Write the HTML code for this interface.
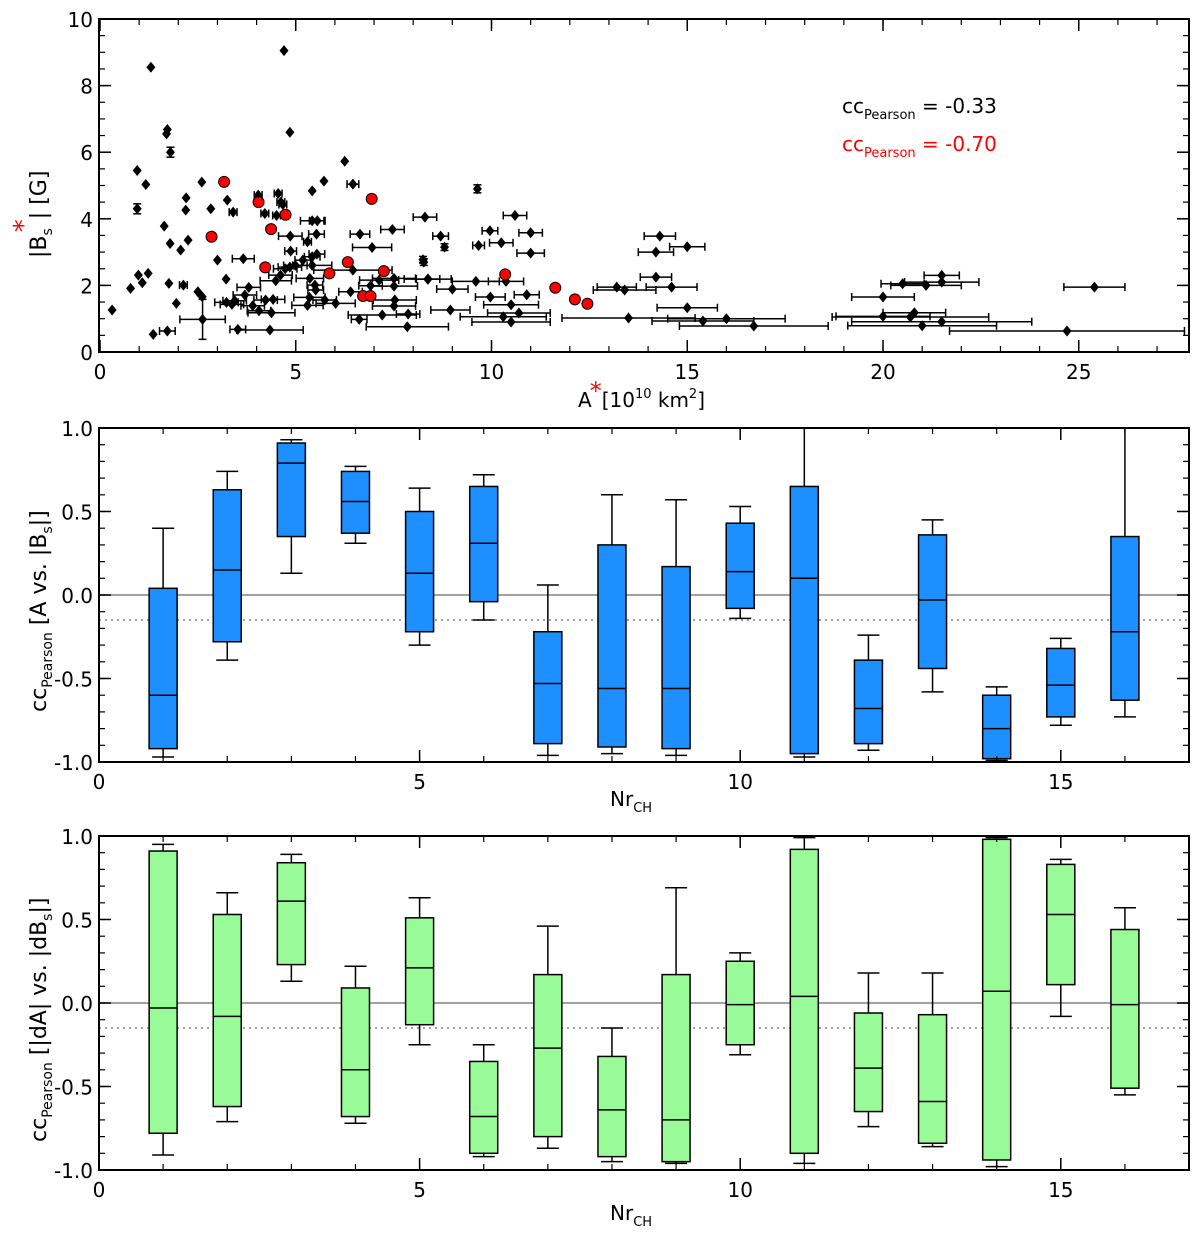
<!DOCTYPE html>
<html><head><meta charset="utf-8"><style>
body{margin:0;background:#fff}
svg text{font-family:"DejaVu Sans","Liberation Sans",sans-serif;fill:#000}
</style></head><body>
<svg id="chart" width="1200" height="1232" viewBox="0 0 1200 1232" xmlns="http://www.w3.org/2000/svg"></svg>
<script>
// ---- Panel 1 scatter data: [A, |Bs|, xerr, yerr]
const scatterBlack = [
[1.3,8.55,0,0],[4.7,9.05,0,0],[4.85,6.6,0,0],[1.7,6.55,0,0],[1.72,6.68,0,0],[1.8,6.0,0,0.15],
[0.95,5.45,0,0],[1.17,5.03,0,0],[0.95,4.3,0,0.15],[2.2,4.63,0,0],[2.19,4.26,0,0],[2.6,5.1,0,0],
[3.25,4.56,0,0],[3.4,4.2,0.1,0],[2.83,4.3,0,0],[4.04,4.71,0.1,0],[4.55,4.76,0.1,0],[4.62,4.5,0.1,0],
[4.67,4.43,0.1,0],[4.21,4.16,0.1,0],[4.51,4.1,0.1,0],[5.42,4.84,0,0],[5.72,5.13,0,0],[6.25,5.73,0,0],
[6.46,5.04,0.15,0],[9.64,4.9,0,0.12],[10.6,4.1,0.3,0],[8.3,4.05,0.3,0],[8.7,3.48,0.2,0],[8.8,3.15,0,0.1],
[9.96,3.64,0.2,0],[11.0,3.58,0.3,0],[9.67,3.2,0.15,0],[10.25,3.28,0.3,0],[11.0,2.97,0.35,0],[8.25,2.77,0,0.1],
[8.37,2.19,0.6,0],[9.6,2.12,0.6,0],[10.37,2.12,0.45,0],[9.0,1.89,0.4,0],[9.97,1.65,0.38,0],[10.9,1.72,0.32,0],
[10.5,1.42,0.7,0],[8.95,1.26,0.5,0],[10.3,1.06,1.1,0],[10.7,1.17,0.8,0],[10.5,0.9,1.0,0],
[1.64,3.78,0,0],[1.79,3.26,0,0],[2.06,3.06,0,0],[2.25,3.36,0,0],[3.0,2.76,0,0],[3.66,2.8,0.28,0],
[4.86,3.48,0.3,0],[4.87,3.03,0.15,0],[5.3,3.31,0.1,0],[5.53,3.54,0.2,0],[5.42,3.94,0.3,0],[5.55,3.94,0.2,0],
[6.64,3.54,0.25,0],[6.95,3.14,0.5,0],[7.47,3.68,0.3,0],[8.27,2.7,0,0.1],
[0.98,2.31,0,0],[1.23,2.36,0,0],[1.08,2.08,0,0],[0.78,1.91,0,0],[0.31,1.26,0,0],[1.76,2.06,0,0],
[2.13,2.01,0.1,0],[1.95,1.46,0,0],[2.5,1.81,0,0],[2.61,1.66,0,0],[2.62,0.98,0.58,0.6],[1.36,0.53,0,0],
[1.72,0.63,0.2,0],[3.22,2.19,0,0],[3.23,1.49,0.3,0],[3.37,1.43,0.3,0],[3.44,1.54,0.3,0],[3.7,1.71,0.3,0],
[3.8,1.94,0.3,0],[3.9,1.39,0.3,0],[3.52,0.68,0.2,0],[4.34,0.66,0.85,0],[4.06,1.24,0.3,0],[4.38,1.18,0.6,0],
[4.23,1.56,0.3,0],[4.42,1.58,0.3,0],[4.61,2.31,0.3,0],[4.73,2.5,0.3,0],[4.85,2.55,0.3,0],[4.99,2.6,0.3,0],
[4.49,2.14,0.4,0],[5.18,2.76,0.2,0],[5.42,2.86,0.2,0],[5.54,2.94,0.2,0],[5.42,2.6,0.5,0],[5.36,2.21,0.35,0],
[5.49,2.01,0.2,0],[5.51,1.86,0.2,0],[5.35,1.64,0.4,0],[5.74,1.56,0.3,0],[6.02,1.46,0.5,0],[5.3,1.4,0.4,0],
[6.46,2.46,1.0,0],[6.4,1.81,0.3,0],[6.91,1.99,0.3,0],[7.13,2.16,0.5,0],[7.51,2.21,0.55,0],[7.51,1.98,0.6,0],
[8.38,2.19,0.3,0],[7.53,1.56,0.55,0],[7.51,1.38,0.55,0],[7.21,1.11,0.87,0],[7.87,1.14,0.3,0],[6.62,0.98,0.2,0],
[7.85,0.76,1.05,0],
[16.7,0.78,1.9,0],[16.0,1.0,1.5,0],[15.4,0.93,1.3,0],[13.5,1.02,1.7,0],[15.0,1.33,0.77,0],
[14.3,3.48,0.4,0],[15.0,3.16,0.45,0],[14.2,3.0,0.45,0],[14.2,2.25,0.4,0],[13.2,1.95,0.5,0],[13.4,1.86,0.8,0],
[14.6,1.95,0.65,0],
[21.5,2.3,0.45,0],[20.5,2.05,0.55,0],[21.1,2.0,0.9,0],[21.5,2.1,0.95,0],[20.0,1.65,0.8,0],[20.8,1.18,0.8,0],
[20.0,1.07,1.2,0],[20.7,1.05,2.0,0],[21.0,0.79,1.9,0],[21.5,0.91,2.3,0],[24.7,0.63,3.0,0],[25.4,1.95,0.78,0]
];
const scatterRed = [
[2.85,3.46],[3.17,5.11],[4.05,4.5],[4.37,3.69],[4.74,4.12],[4.22,2.54],[5.86,2.36],[6.33,2.7],
[6.94,4.6],[6.72,1.68],[6.91,1.68],[7.25,2.43],[10.35,2.33],[11.63,1.93],[12.13,1.58],[12.45,1.45]
];
// ---- Box data per Nr_CH: [whiskerLow, q1, median, q3, whiskerHigh]
const nrCH = [1,2,3,4,5,6,7,8,9,10,11,12,13,14,15,16];
const boxA = [
[-0.97,-0.92,-0.60,0.04,0.40],[-0.39,-0.28,0.15,0.63,0.74],[0.13,0.35,0.79,0.91,0.93],[0.31,0.37,0.56,0.74,0.77],
[-0.30,-0.22,0.13,0.50,0.64],[-0.15,-0.04,0.31,0.65,0.72],[-0.96,-0.89,-0.53,-0.22,0.06],[-0.95,-0.91,-0.56,0.30,0.60],
[-0.96,-0.92,-0.56,0.17,0.57],[-0.14,-0.08,0.14,0.43,0.53],[-0.97,-0.95,0.10,0.65,1.0],[-0.93,-0.89,-0.68,-0.39,-0.24],
[-0.58,-0.44,-0.03,0.36,0.45],[-0.99,-0.98,-0.80,-0.60,-0.55],[-0.78,-0.73,-0.54,-0.32,-0.26],[-0.73,-0.63,-0.22,0.35,1.0]
];
const boxD = [
[-0.91,-0.78,-0.03,0.91,0.95],[-0.71,-0.62,-0.08,0.53,0.66],[0.13,0.23,0.61,0.84,0.89],[-0.72,-0.68,-0.40,0.09,0.22],
[-0.25,-0.13,0.21,0.51,0.63],[-0.92,-0.90,-0.68,-0.35,-0.25],[-0.87,-0.80,-0.27,0.17,0.46],[-0.95,-0.92,-0.64,-0.32,-0.15],
[-0.96,-0.95,-0.70,0.17,0.69],[-0.31,-0.25,-0.01,0.25,0.30],[-0.96,-0.90,0.04,0.92,0.99],[-0.74,-0.65,-0.39,-0.06,0.18],
[-0.86,-0.84,-0.59,-0.07,0.18],[-0.98,-0.94,0.07,0.98,0.99],[-0.08,0.11,0.53,0.83,0.86],[-0.55,-0.51,-0.01,0.44,0.57]
];
const sigLevel = -0.15;
const ticks1x = [0,5,10,15,20,25], ticks1y = [0,2,4,6,8,10];
const ticksBx = [0,5,10,15], ticksBy = [-1.0,-0.5,0.0,0.5,1.0];

const NS="http://www.w3.org/2000/svg", svg=document.getElementById('chart');
function mk(tag,at,parent){const e=document.createElementNS(NS,tag);for(const k in at)e.setAttribute(k,at[k]);(parent||svg).appendChild(e);return e;}
function line(x1,y1,x2,y2,st,w,p){return mk('line',{x1,y1,x2,y2,stroke:st||'#000','stroke-width':w||1.5},p);}

function axesFrame(g,L,T,R,B,sx,sy,xmaj,xmin,ymaj,ymin,fmtY,fmtX){
  mk('rect',{x:L,y:T,width:R-L,height:B-T,fill:'none',stroke:'#000','stroke-width':2},g);
  xmin.forEach(v=>{const x=sx(v);line(x,B,x,B-6,'#000',1.2,g);line(x,T,x,T+6,'#000',1.2,g);});
  xmaj.forEach(v=>{const x=sx(v);line(x,B,x,B-12,'#000',1.5,g);line(x,T,x,T+12,'#000',1.5,g);
    const t=mk('text',{x:x,y:B+27,'font-size':20,'text-anchor':'middle'},g);t.textContent=fmtX(v);
    
    });
  ymin.forEach(v=>{const y=sy(v);line(L,y,L+6,y,'#000',1.2,g);line(R,y,R-6,y,'#000',1.2,g);});
  ymaj.forEach(v=>{const y=sy(v);line(L,y,L+12,y,'#000',1.5,g);line(R,y,R-12,y,'#000',1.5,g);
    const t=mk('text',{x:L-6,y:y+8,'font-size':20,'text-anchor':'end'},g);t.textContent=fmtY(v);
    
    });
}
function range(a,b,s){const r=[];for(let v=a;v<=b+1e-9;v+=s)r.push(+v.toFixed(3));return r;}

// ---------- Panel 1 ----------
const p1={L:99,T:19,R:1189,B:352};
const sx1=v=>100+v*39.15, sy1=v=>352-v*33.3;
const g1=mk('g',{});


const gb=mk('g',{},g1);


scatterBlack.forEach(d=>{
  const x=sx1(d[0]),y=sy1(d[1]);
  if(d[2]>0){const x0=sx1(d[0]-d[2]),x1=sx1(d[0]+d[2]);line(x0,y,x1,y,'#000',1.5,gb);line(x0,y-4,x0,y+4,'#000',1.5,gb);line(x1,y-4,x1,y+4,'#000',1.5,gb);}
  if(d[3]>0){const y0=sy1(d[1]-d[3]),y1=sy1(d[1]+d[3]);line(x,y0,x,y1,'#000',1.5,gb);line(x-4,y0,x+4,y0,'#000',1.5,gb);line(x-4,y1,x+4,y1,'#000',1.5,gb);}
  const p=mk('polygon',{points:`${x},${y-5.5} ${x+4.5},${y} ${x},${y+5.5} ${x-4.5},${y}`,fill:'#000'},gb);
  
  
});
const gr=mk('g',{},g1);


scatterRed.forEach(d=>{
  const c=mk('circle',{cx:sx1(d[0]),cy:sy1(d[1]),r:5.5,fill:'#f00',stroke:'#000','stroke-width':1},gr);
  
  
});
axesFrame(g1,p1.L,p1.T,p1.R,p1.B,sx1,sy1,ticks1x,range(0,27,1),ticks1y,range(0,10,0.5),v=>String(v),v=>String(v));

// ---------- Box panels ----------
function boxPanel(T,B,data,fill,name){
  const L=99,R=1189;
  const sx=v=>99+v*64.12, sy=v=>(T+B)/2-v*(B-T)/2;
  const g=mk('g',{});
  
  
  line(L,sy(0),R,sy(0),'#808080',1.5,g);
  const dl=line(L,sy(sigLevel),R,sy(sigLevel),'#808080',1.5,g);dl.setAttribute('stroke-dasharray','2,4');
  nrCH.forEach((n,i)=>{
    const d=data[i],x=sx(n),hw=14,cw=11;
    const bg=mk('g',{},g);
    
    
    line(x,sy(d[4]),x,sy(d[3]),'#000',1.5,bg);line(x,sy(d[0]),x,sy(d[1]),'#000',1.5,bg);
    line(x-cw,sy(d[4]),x+cw,sy(d[4]),'#000',1.5,bg);line(x-cw,sy(d[0]),x+cw,sy(d[0]),'#000',1.5,bg);
    mk('rect',{x:x-hw,y:sy(d[3]),width:2*hw,height:sy(d[1])-sy(d[3]),fill:fill,stroke:'#000','stroke-width':1.5},bg);
    line(x-hw,sy(d[2]),x+hw,sy(d[2]),'#000',1.5,bg);
  });
  axesFrame(g,L,T,R,B,sx,sy,ticksBx,range(0,17,1),ticksBy,range(-1,1,0.1),v=>v.toFixed(1),v=>String(v));
}
boxPanel(428,762,boxA,'#1e8fff','box-panel-area');
boxPanel(836,1170,boxD,'#98fb98','box-panel-dA');
</script>
<!-- axis titles & annotations -->
<svg style="position:absolute;left:0;top:0" width="1200" height="1232">
<g font-family="DejaVu Sans, Liberation Sans, sans-serif" font-size="20">
<text x="578" y="407">A<tspan fill="#f00" font-size="24" dx="-2" dy="-8">*</tspan><tspan dy="8">[10</tspan><tspan font-size="13" dy="-9">10</tspan><tspan dy="9"> km</tspan><tspan font-size="13" dy="-9">2</tspan><tspan dy="9">]</tspan></text>
<text font-size="22" transform="translate(46,258) rotate(-90)">|B<tspan font-size="14" dy="6">s</tspan><tspan fill="#f00" font-size="26" dx="-4" dy="-20">*</tspan><tspan dy="14">| [G]</tspan></text>
<text x="842" y="113">cc<tspan font-size="13" dy="6">Pearson</tspan><tspan dy="-6"> = -0.33</tspan></text>
<text x="842" y="151" fill="#f00" style="fill:#f00">cc<tspan font-size="13" dy="6">Pearson</tspan><tspan dy="-6"> = -0.70</tspan></text>
<text x="610" y="806">Nr<tspan font-size="13" dy="6">CH</tspan></text>
<text font-size="22" transform="translate(46,712) rotate(-90)">cc<tspan font-size="14" dy="6">Pearson</tspan><tspan dy="-6"> [A vs. |B</tspan><tspan font-size="14" dy="6">s</tspan><tspan dy="-6">|]</tspan></text>
<text x="610" y="1220">Nr<tspan font-size="13" dy="6">CH</tspan></text>
<text font-size="22" transform="translate(46,1142) rotate(-90)">cc<tspan font-size="14" dy="6">Pearson</tspan><tspan dy="-6"> [|dA| vs. |dB</tspan><tspan font-size="14" dy="6">s</tspan><tspan dy="-6">|]</tspan></text>
</g></svg>
</body></html>
